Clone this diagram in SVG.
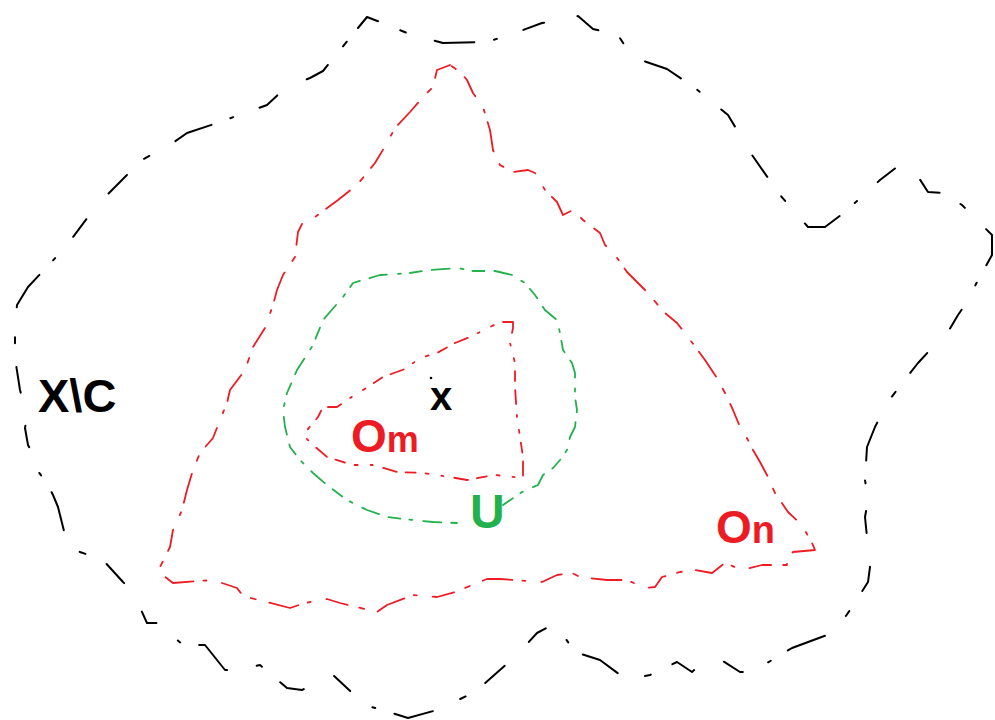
<svg xmlns="http://www.w3.org/2000/svg" width="995" height="720" viewBox="0 0 995 720">
<style>
.ln{fill:none;stroke-linecap:round;stroke-linejoin:round}
.blk{stroke:#000;stroke-width:2;stroke-dasharray:26 24 6 30 40 20 3 28 22 34}
.red{stroke:#ed1c24;stroke-width:1.8;stroke-dasharray:22 12 5 14 30 10 3 16}
.grn{stroke:#22b14c;stroke-width:1.8;stroke-dasharray:12 9 3 11 18 10}
.redi{stroke:#ed1c24;stroke-width:1.8;stroke-dasharray:10 10 3 13 2 11 14 9}
.lbl{font-family:"Liberation Sans",Arial,sans-serif;font-weight:bold}
</style>
<rect width="995" height="720" fill="#fff"/>
<g id="space">
<path class="ln blk" d="M358,28 L367,17 380,22 407,33 443,43 487,42 515,33 542,23 563,20 578,16 593,29 618,35 632,57 667,69 695,88 728,115 752,155 780,195 808,227 825,227 845,212 857,201 880,180 902,163 917,175 928,192 943,193 962,205 992,235 992,255 977,282 967,302 958,315 945,337 930,350 918,363 903,382 887,403 875,427 867,447 865,480 868,500 865,517 867,537 870,567 868,582 850,610 835,632 792,648 752,672 740,672 718,658 700,665 692,672 677,662 650,675 627,680 600,660 575,652 563,635 552,625 537,633 517,655 475,692 437,710 408,718 392,713 365,705 333,675 302,690 287,688 260,665 238,670 225,670 205,645 183,645 158,623 147,623 133,592 123,582 103,560 80,552 68,547 62,523 58,507 53,495 47,483 37,470 32,452 28,445 25,428 27,417 20,390 15,358 15,325 17,305 28,287 60,253 67,245 88,217 103,199 130,172 138,162 170,145 187,133 217,123 267,105 283,90 292,85 310,78 323,71 340,50 Z"/>
<text class="lbl" x="38" y="412" font-size="47" fill="#000">X\C</text>
</g>
<g id="On">
<path class="ln red" d="M450,65 L437,70 433,87 423,97 410,112 395,128 387,143 375,163 357,185 338,200 315,217 303,222 298,232 295,257 283,275 277,290 273,305 265,328 253,347 245,370 230,390 227,403 220,420 213,438 200,453 193,470 187,490 182,510 173,530 170,547 160,567 160,573 173,583 213,580 237,588 243,596 290,608 305,603 327,599 340,603 377,612 387,605 413,595 437,597 455,592 487,579 500,579 542,582 557,575 572,573 580,577 607,580 627,580 645,588 655,587 662,577 680,572 695,570 712,573 725,563 742,570 762,565 787,565 787,557 793,552 815,550 813,545 802,525 788,512 775,493 768,477 760,462 753,450 748,440 740,427 733,410 725,393 717,378 705,360 685,333 677,323 665,313 645,290 627,272 615,255 605,245 600,233 583,220 573,210 563,215 557,202 545,190 535,173 528,170 513,172 500,165 493,150 490,130 483,107 473,93 467,80 460,72 Z"/>
<text class="lbl" x="716" y="543" font-size="46" fill="#ed1c24">O<tspan font-size="38">n</tspan></text>
</g>
<g id="U">
<path class="ln grn" d="M503,505 L522,492 538,485 543,475 553,468 560,460 567,450 570,437 575,427 577,410 575,397 575,373 572,363 563,350 560,333 557,320 545,310 535,295 525,283 512,275 495,271 473,271 458,268 430,270 410,273 380,275 353,283 343,297 323,320 313,345 297,370 287,393 283,410 285,427 290,447 300,460 313,473 327,485 347,500 367,510 387,517 413,520 433,522 457,523"/>
<text class="lbl" x="470" y="528" font-size="48" fill="#22b14c">U</text>
</g>
<g id="Om">
<path class="ln redi" d="M513,322 L500,322 488,328 470,337 455,343 437,353 420,358 405,369 383,377 363,390 350,398 337,407 323,407 318,417 303,435 313,445 327,457 353,465 373,465 397,472 423,473 450,477 467,480 495,475 523,478 523,457 520,437 517,417 515,387 515,363 513,355 510,343 513,328 Z"/>
<text class="lbl" x="351" y="452" font-size="46" fill="#ed1c24">O<tspan font-size="36">m</tspan></text>
</g>
<g id="x">
<circle cx="431" cy="378" r="1.3" fill="#000"/>
<text class="lbl" x="430" y="410" font-size="40" fill="#000">x</text>
</g>
</svg>
